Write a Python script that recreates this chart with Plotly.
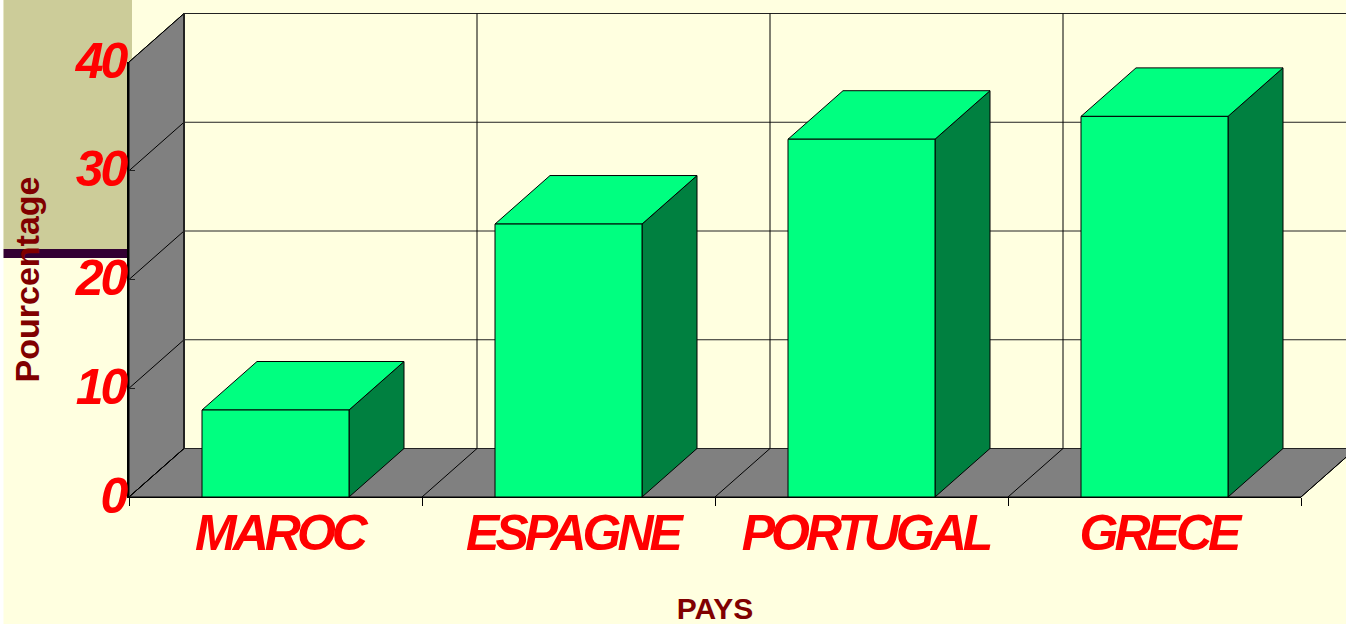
import plotly.graph_objects as go

categories = ["MAROC", "ESPAGNE", "PORTUGAL", "GRECE"]
values = [8.0, 25.1, 32.9, 35.0]
y_ticks = [0, 10, 20, 30, 40]
x_title = "PAYS"
y_title = "Pourcentage"

# page geometry
W, H = 1346, 625
X0, X1, Y0, Y40 = 129, 1301, 497, 62
UX = (X1 - X0) / len(categories)
UY = (Y0 - Y40) / y_ticks[-1]
DX, DY = 55 / UX, 48.5 / UY   # oblique depth in axis units
BAR_W = 147 / UX

RED = "#FF0000"
TITLE = "#800000"
GREY = "#808080"
GREEN = "#00FF80"
DARK = "#008040"

fig = go.Figure()

def poly(xs, ys, fill=None, width=1, color="black"):
    fig.add_trace(go.Scatter(
        x=xs, y=ys, mode="lines", line=dict(color=color, width=width),
        fill="toself" if fill else None, fillcolor=fill,
        hoverinfo="skip", showlegend=False, xaxis="x", yaxis="y"))

n = len(categories)
top = y_ticks[-1]
# left wall and floor
poly([0, DX, DX, 0, 0], [0, DY, top + DY, top, 0], GREY)
poly([0, n, n + DX, DX, 0], [0, 0, DY, DY, 0], GREY)
# back wall grid and wall diagonals
for t in y_ticks:
    poly([DX, n + DX], [t + DY, t + DY], color="#222222")
    poly([0, DX], [t, t + DY])
for k in range(n + 1):
    poly([k, k + DX], [0, DY])
    if k < n:
        poly([k + DX, k + DX], [DY, top + DY], width=2 if k == 0 else 1, color="#222222" if k == 0 else "black")

# bar tops and sides
for i, v in enumerate(values):
    l, r = i + 0.5 - BAR_W / 2, i + 0.5 + BAR_W / 2
    poly([r, r + DX, r + DX, r, r], [0, DY, v + DY, v, 0], DARK)
    poly([l, r, r + DX, l + DX, l], [v, v, v + DY, v + DY, v], GREEN)

# bar fronts, on the real axes
fig.add_trace(go.Bar(
    x=[i + 0.5 for i in range(n)], y=values, width=BAR_W,
    marker=dict(color=GREEN, line=dict(color="black", width=1)),
    hoverinfo="skip", showlegend=False, xaxis="x2", yaxis="y2"))

tick_font = dict(family="Liberation Sans", size=50, color=RED, weight="bold", style="italic")

fig.update_layout(
    width=W, height=H,
    margin=dict(l=0, r=0, t=0, b=0),
    paper_bgcolor="white", plot_bgcolor="rgba(0,0,0,0)",
    showlegend=False,
    xaxis=dict(domain=[0, 1], range=[-X0 / UX, (W - X0) / UX], visible=False, fixedrange=True),
    yaxis=dict(domain=[0, 1], range=[(Y0 - H) / UY, Y0 / UY], visible=False, fixedrange=True),
    xaxis2=dict(
        domain=[X0 / W, X1 / W], range=[0, n], anchor="y2",
        tickmode="array", tickvals=[i + 0.5 for i in range(n)], ticktext=categories,
        ticks="", tickfont=tick_font, ticklabelstandoff=-8, ticklabelshift=4,
        showgrid=False, zeroline=False,
        showline=True, linecolor="black", linewidth=1,
        minor=dict(tickmode="array", tickvals=list(range(n + 1)), ticks="outside",
                   ticklen=8, tickcolor="black", tickwidth=1, showgrid=False),
        title=dict(text=x_title, standoff=59,
                   font=dict(family="Liberation Sans", size=30, color=TITLE, weight="bold")),
        automargin=False, fixedrange=True),
    yaxis2=dict(
        domain=[(H - Y0) / H, (H - Y40) / H], range=[0, top], anchor="x2",
        tickmode="array", tickvals=y_ticks, ticks="inside", ticklen=6,
        tickcolor="#222222", tickfont=tick_font, ticklabelstandoff=-8, ticklabelshift=-2,
        showgrid=False, zeroline=False,
        showline=True, linecolor="black", linewidth=1.5,
        title=dict(text=y_title, standoff=19,
                   font=dict(family="Liberation Sans", size=34, color=TITLE, weight="bold")),
        automargin=False, fixedrange=True),
    shapes=[
        dict(type="rect", xref="paper", yref="paper", x0=3.5 / W, x1=1, y0=1 / H, y1=1,
             fillcolor="#FFFFE0", line_width=0, layer="below"),
        dict(type="rect", xref="paper", yref="paper", x0=3.5 / W, x1=132 / W, y0=(H - 249) / H, y1=1,
             fillcolor="#CCCC99", line_width=0, layer="below"),
        dict(type="rect", xref="paper", yref="paper", x0=3.5 / W, x1=129 / W, y0=(H - 258) / H, y1=(H - 249) / H,
             fillcolor="#330033", line_width=0, layer="below"),
    ],
)

post = """
document.body.style.margin = '0';
var s = document.createElement('style');
s.textContent = '.x2tick text{letter-spacing:-4px;-webkit-text-stroke:0.6px #FF0000} .y2tick text{letter-spacing:-3px;-webkit-text-stroke:0.6px #FF0000}';
document.head.appendChild(s);
"""
fig.write_html("out.html", config=dict(displayModeBar=False), post_script=post)
